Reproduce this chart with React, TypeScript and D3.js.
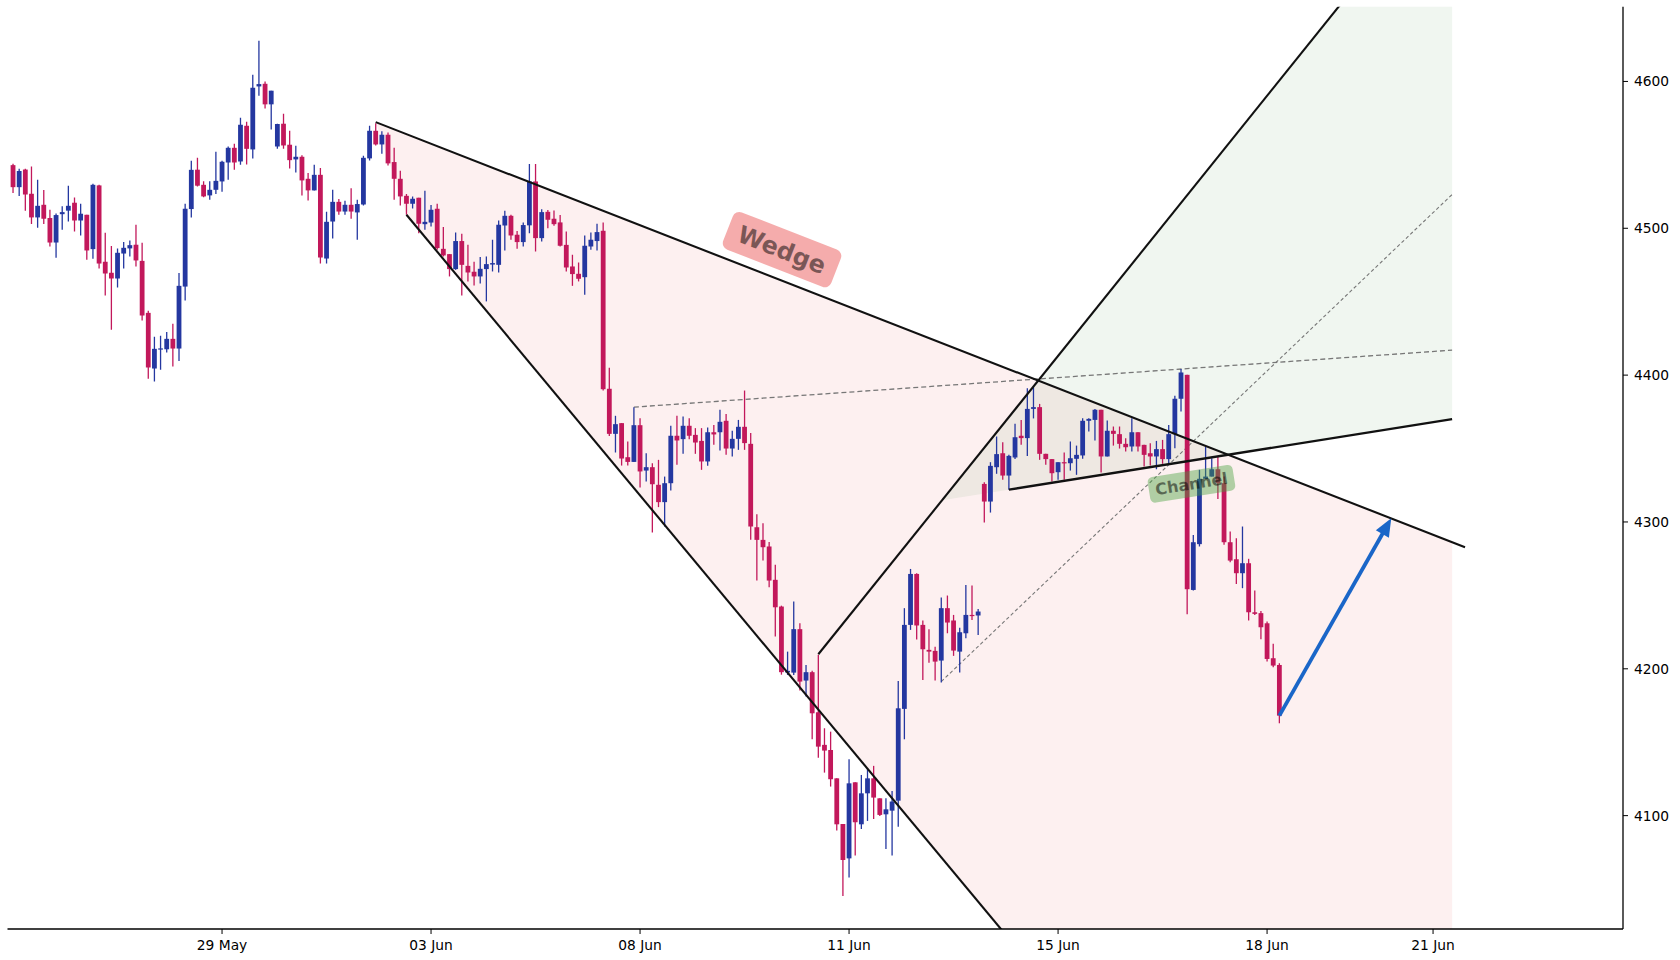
import React from "react";
import * as d3 from "d3";

// ---- candle data (index-based x axis) ----
const opens = [4543,4528,4540,4523.5,4507.4,4516,4507,4490.3,4509.6,4512,4517.4,4505.3,4509.2,4485.8,4529.2,4477.2,4469.7,4465.8,4482.8,4486.3,4488.8,4477.8,4442.4,4404.5,4417.6,4417.6,4424.7,4418.1,4460.3,4513.1,4539.9,4529.6,4522.4,4526.2,4531.9,4544.8,4554.8,4545.5,4569.8,4553.7,4596.6,4598.4,4584.4,4555.7,4571.2,4556.9,4546.9,4548.7,4533.7,4525.8,4536.4,4479.4,4504.6,4518,4511.4,4516,4510.8,4516.2,4547.6,4566.4,4557.1,4563.7,4545.1,4533.7,4522.1,4516.7,4520.8,4502.8,4503.9,4513.3,4486,4482.4,4472.2,4491.3,4474.4,4470.4,4467.2,4472.2,4475.3,4475.1,4501.9,4508.5,4495.6,4490.6,4502,4531.9,4493.3,4511.2,4506.5,4504,4488.7,4474,4469,4466.7,4487.6,4491.3,4498.3,4390.7,4360,4367.3,4344.1,4340.9,4365.9,4335,4337.3,4325.3,4313.5,4326.4,4358.7,4356.4,4365.5,4359.3,4355.2,4341.2,4361.1,4361.1,4368.9,4350,4356.6,4364.8,4353.2,4296.4,4287.8,4283.3,4260.6,4242.4,4197.5,4197.4,4227,4192,4197.7,4170.4,4148.2,4144.7,4125.4,4094.3,4070.9,4122.7,4094.1,4115.2,4125.4,4111.8,4100.9,4103.4,4110.2,4172.7,4229.9,4264.6,4229.9,4212.9,4212.2,4205.6,4241.3,4232.9,4211.7,4224.2,4236.7,4236.3,4325.9,4313.9,4337.3,4346.8,4331.6,4343.9,4358.7,4357.1,4377,4378.2,4346.4,4342.8,4333.9,4340.7,4340,4343,4345.3,4368.9,4369.5,4376.4,4344.6,4362.1,4359.8,4353.2,4351.4,4361.1,4352.5,4346.8,4344.6,4349.6,4342.8,4359.8,4383.9,4400.2,4253.7,4284.9,4329.4,4330.9,4335.9,4326.4,4286.2,4274.6,4265.1,4271.9,4238.5,4237.9,4231,4207.2,4202.6];
const highs = [4544,4540.5,4540.5,4542,4533,4526,4512.6,4510,4515,4529,4521,4516.7,4509.2,4530.3,4529.6,4497,4488,4486.3,4490.6,4491.7,4502.4,4490.1,4443.8,4426.1,4426.8,4429.3,4435,4469.5,4516.7,4546,4548,4532,4532,4552.1,4546,4555.7,4557.6,4575.3,4572.5,4604.6,4627.7,4600,4593.7,4571.2,4578,4566.4,4556.2,4549.8,4537.6,4543.2,4541,4511.2,4526.2,4519.9,4518.7,4527.3,4519.4,4549.4,4569.8,4571.6,4566,4565.3,4554.8,4539.2,4523.3,4521.7,4520.8,4525.5,4515.8,4516.7,4500.8,4482.4,4497.2,4496.3,4488.8,4477.2,4480.4,4480.8,4492.2,4505.3,4511.9,4509.2,4498.1,4504,4543.7,4543.7,4513,4512.4,4512.1,4509,4497.8,4482,4476.7,4495.1,4497.2,4503.1,4504,4405,4372.3,4367.3,4354.8,4378.2,4370.7,4346.8,4340,4342.3,4330.9,4365.5,4372.3,4371.8,4370.7,4363.9,4363.9,4364.3,4366.1,4376.4,4373.6,4362.1,4369.5,4389.5,4360.5,4305.3,4299.2,4286.4,4270.8,4243,4211.7,4245.8,4231,4202.6,4198.6,4209.5,4159.5,4157.2,4125.4,4094.3,4138.4,4122.7,4127.7,4131.6,4133.9,4111.8,4111.8,4116.8,4191.7,4241.3,4268,4265,4232.9,4227,4215.1,4248.5,4249.9,4236.7,4228,4257.1,4256.7,4240.8,4327,4340.7,4358.2,4354.3,4345.7,4366.8,4369.5,4391.1,4391.8,4380.4,4346.4,4342.8,4340.7,4347.3,4354.8,4352,4370.7,4370.7,4377,4376.4,4369.1,4365,4365,4357,4370.7,4361.1,4352.5,4353.6,4355.2,4355.9,4366.1,4385.9,4404.1,4400.2,4291.2,4335.5,4351.4,4343.4,4344.6,4330.9,4293.5,4288.9,4296.9,4274.9,4253.3,4239.4,4232.2,4217,4203.8];
const lows = [4524,4522,4512,4503,4500.3,4503,4487.6,4480,4499,4504.6,4497.8,4495.1,4478.5,4479.2,4472.6,4454.2,4430.9,4459.7,4472.6,4480.8,4474,4437.2,4397.5,4395.6,4403.6,4415.4,4405.9,4409.7,4450.8,4507.3,4528.5,4521.2,4519.4,4523.3,4524.9,4533,4539.9,4543.2,4543.5,4547.6,4590.3,4581.6,4567.3,4554.1,4554.1,4540.7,4538,4522.4,4519,4525.8,4476,4476,4493.1,4509.2,4509.2,4506.5,4492.2,4515.5,4546.2,4556.4,4550.7,4542.8,4519.4,4515.5,4509.2,4513.5,4496.7,4499,4501.2,4485.3,4480.8,4467.2,4471.7,4454.2,4463.8,4461,4462.4,4450.2,4470.6,4469.9,4484.9,4492.2,4486,4487.6,4496.7,4484.2,4491,4500.1,4501.7,4487.6,4470.6,4460.8,4463.8,4454.7,4485.3,4484.9,4389.5,4358.6,4347.3,4338.4,4338.4,4340.9,4323.4,4327.5,4292.8,4310.1,4296.9,4321.4,4338.9,4346.4,4356.4,4346.4,4335.5,4338.2,4352.5,4348.7,4345.7,4344.6,4349.1,4349.1,4287.8,4260.1,4273.7,4255.6,4222,4196,4195.8,4195.8,4185.2,4181.1,4152,4139.5,4129.3,4119.8,4089.8,4045.3,4057.8,4072.8,4090.9,4096.4,4097.7,4099.8,4077.3,4072.8,4092.5,4152,4226.5,4220,4192.4,4204.2,4192,4190.6,4224.2,4208.8,4197.4,4220.8,4233.3,4223.1,4299.6,4306.4,4332.8,4328.7,4321.9,4342.8,4352.5,4345,4370.5,4342.3,4338.9,4327.5,4328.7,4328.7,4335,4332.1,4343,4361.6,4355.5,4333.7,4344.6,4352,4350,4348,4348,4348,4337.8,4338.4,4335.9,4339.6,4340,4350.2,4375.2,4237.2,4253.3,4283.3,4329.4,4330.9,4315.7,4284.4,4272.6,4257.8,4254.9,4232.9,4236.7,4220.1,4204.9,4201.1,4162.9];
const closes = [4528,4539,4523,4507.4,4515.3,4506.5,4490.3,4509,4511,4515.3,4505.3,4509.9,4484.9,4529.6,4476,4469.2,4465.8,4483.3,4486.7,4488.5,4478.1,4440.6,4405.2,4417.9,4418.2,4424.7,4418.1,4460.8,4513.3,4539.8,4529,4521.7,4526.2,4532.3,4545.3,4554.8,4544.8,4570.5,4554.1,4595.7,4598.2,4584.4,4593.7,4571,4556.4,4546.4,4548.7,4532.6,4525.8,4536.4,4480.1,4504.4,4518,4511.4,4516,4511.4,4516.5,4548,4566.4,4557.1,4563.7,4544.2,4533.7,4521.7,4516.7,4520.1,4503.1,4504.4,4512.6,4486.5,4481.5,4472.2,4491.3,4475.1,4469.9,4467.2,4472.4,4475.6,4476.3,4502.4,4508.5,4495.1,4490.6,4502.2,4531.9,4493.3,4511,4505.8,4502.8,4488.1,4473.3,4468.8,4465.6,4488.1,4492.2,4497.4,4390.4,4360,4366.6,4343.2,4340.9,4365.9,4334.4,4337.3,4325.7,4313.5,4326.4,4358.7,4355.5,4365.5,4358.7,4354.1,4341.2,4361.1,4359.6,4368.2,4350,4356.6,4364.8,4353.7,4296.9,4287.8,4282.8,4260.1,4241.9,4197.7,4198.6,4227,4191.3,4197.7,4169.7,4147,4144.3,4124.8,4094.1,4069.8,4122,4095.5,4115.2,4125.4,4112.3,4100.5,4104.3,4109.6,4173.1,4229.9,4264.6,4229.5,4213.3,4211.7,4204.9,4241.3,4231.5,4212.4,4224.9,4236.7,4236.3,4239,4313.9,4338.2,4346.2,4331.6,4345,4357.7,4357.1,4377,4378.2,4346.4,4342.8,4333.2,4340.7,4340,4343.4,4345.7,4368.9,4370.2,4376.4,4344.6,4362.1,4360,4353.2,4350.9,4361.1,4351.4,4345.7,4344.6,4349.6,4342.8,4359.8,4383.9,4401.8,4254.2,4286.2,4329.4,4330.9,4335.9,4326.4,4286.2,4273.7,4265.1,4271.9,4238.5,4237.4,4228.3,4206.7,4202.2,4168.1];

// ---- axis ticks ----
const dateTickIndex = [34, 68, 102, 136, 170, 204, 231];
const dateTickLabels = ["29 May", "03 Jun", "08 Jun", "11 Jun", "15 Jun", "18 Jun", "21 Jun"];
const priceTicks = [4100, 4200, 4300, 4400, 4500, 4600];

// ---- pattern annotations: [index, price] anchor pairs ----
const wedgeUpper = [[59, 4572.3], [236.2, 4282.8]];
const wedgeLower = [[64, 4509.2], [175, 3950.9]];
const risingLine = [[131, 4209.9], [230, 4725.7]];
const channelLine = [[162, 4322], [234.1, 4370]];
const dashedHighs = [[101, 4378.2], [234.1, 4417]];
const dashedLows = [[151, 4191.3], [234.1, 4523]];
const arrowPoints = [[206, 4168.1], [224.2, 4302.5]];
const zoneEndIndex = 234.1;
const wedgeLabel = { text: "Wedge", index: 125.1, price: 4485.5 };
const channelLabel = { text: "Channel", index: 191.7, price: 4326 };

const W = 1680, H = 960;
const L = 7.5, R = 1623, T = 6.7, B = 929;

const x = d3.scaleLinear().domain([-0.9, 261.9]).range([L, R]);
const y = d3.scaleLinear().domain([4022.8, 4650.9]).range([B, T]);

const UP = "#2437a0";
const DOWN = "#c2185b";
const FONT = "DejaVu Sans, sans-serif";

function at(seg: number[][], i: number) {
  const [[x1, y1], [x2, y2]] = seg;
  return y1 + ((y2 - y1) * (i - x1)) / (x2 - x1);
}
function pts(list: number[][]) {
  return list.map(([i, p]) => `${x(i)},${y(p)}`).join(" ");
}
function angleOf(seg: number[][]) {
  const [[x1, y1], [x2, y2]] = seg;
  return (Math.atan2(y(y2) - y(y1), x(x2) - x(x1)) * 180) / Math.PI;
}

export default function App() {
  const bw = 4.8;
  const wedgePoly = [
    [wedgeUpper[0][0], at(wedgeUpper, wedgeUpper[0][0])],
    [zoneEndIndex, at(wedgeUpper, zoneEndIndex)],
    [zoneEndIndex, at(wedgeLower, zoneEndIndex)],
    [wedgeLower[0][0], at(wedgeLower, wedgeLower[0][0])],
  ];
  const s1 = (risingLine[1][1] - risingLine[0][1]) / (risingLine[1][0] - risingLine[0][0]);
  const s2 = (channelLine[1][1] - channelLine[0][1]) / (channelLine[1][0] - channelLine[0][0]);
  const xi = (channelLine[0][1] - s2 * channelLine[0][0] - (risingLine[0][1] - s1 * risingLine[0][0])) / (s1 - s2);
  const greenPoly = [
    [xi, at(channelLine, xi)],
    [zoneEndIndex, at(risingLine, zoneEndIndex)],
    [zoneEndIndex, at(channelLine, zoneEndIndex)],
  ];

  const ax1 = x(arrowPoints[0][0]), ay1 = y(arrowPoints[0][1]);
  const ax2 = x(arrowPoints[1][0]), ay2 = y(arrowPoints[1][1]);
  const len = Math.hypot(ax2 - ax1, ay2 - ay1);
  const ux = (ax2 - ax1) / len, uy = (ay2 - ay1) / len;
  const hl = 18, hw = 7.5;
  const bx = ax2 - ux * hl, by = ay2 - uy * hl;
  const head = `${ax2},${ay2} ${bx - uy * hw},${by + ux * hw} ${bx + uy * hw},${by - ux * hw}`;

  const wAng = angleOf(wedgeUpper);
  const cAng = angleOf(channelLine);

  const line = (seg: number[][], extra: any = {}) => (
    <line x1={x(seg[0][0])} y1={y(seg[0][1])} x2={x(seg[1][0])} y2={y(seg[1][1])} {...extra} />
  );

  return (
    <svg width={W} height={H} style={{ position: "absolute", left: 0, top: 0, background: "#fff" }}>
      <defs>
        <clipPath id="plot">
          <rect x={L} y={T} width={R - L} height={B - T} />
        </clipPath>
      </defs>
      <g clipPath="url(#plot)">
        <polygon points={pts(wedgePoly)} fill="rgb(230,60,60)" fillOpacity={0.08} />
        <polygon points={pts(greenPoly)} fill="rgb(60,140,60)" fillOpacity={0.08} />
        {line(dashedHighs, { stroke: "#777", strokeWidth: 1.3, strokeDasharray: "5,3" })}
        {line(dashedLows, { stroke: "#777", strokeWidth: 1.1, strokeDasharray: "3.5,2.5" })}
        {opens.map((o, i) => {
          const c = closes[i];
          const up = c >= o;
          const col = up ? UP : DOWN;
          const top = y(Math.max(o, c));
          const bot = y(Math.min(o, c));
          return (
            <g key={i}>
              <line x1={x(i)} x2={x(i)} y1={y(highs[i])} y2={y(lows[i])} stroke={col} strokeWidth={1.3} />
              <rect x={x(i) - bw / 2} y={top} width={bw} height={Math.max(1.2, bot - top)} fill={col} />
            </g>
          );
        })}
        {line(wedgeUpper, { stroke: "#111", strokeWidth: 2.1 })}
        {line(wedgeLower, { stroke: "#111", strokeWidth: 2.1 })}
        {line(risingLine, { stroke: "#111", strokeWidth: 2.1 })}
        {line(channelLine, { stroke: "#111", strokeWidth: 2.4 })}
        <line x1={ax1} y1={ay1} x2={bx + ux * 2} y2={by + uy * 2} stroke="#1a66c8" strokeWidth={3.8} />
        <polygon points={head} fill="#1a66c8" />
      </g>

      <g transform={`translate(${x(wedgeLabel.index)},${y(wedgeLabel.price)}) rotate(${wAng})`}>
        <rect x={-58} y={-20} width={116} height={40} rx={7} fill="rgb(235,90,90)" fillOpacity={0.5} />
        <text textAnchor="middle" dy="0.36em" fontFamily={FONT} fontWeight="bold" fontSize={24} fill="#000" fillOpacity={0.5}>
          {wedgeLabel.text}
        </text>
      </g>
      <g transform={`translate(${x(channelLabel.index)},${y(channelLabel.price)}) rotate(${cAng})`}>
        <rect x={-43} y={-13} width={86} height={26} rx={5} fill="rgb(70,160,60)" fillOpacity={0.42} />
        <text textAnchor="middle" dy="0.36em" fontFamily={FONT} fontWeight="bold" fontSize={16} fill="#000" fillOpacity={0.5}>
          {channelLabel.text}
        </text>
      </g>

      <line x1={L} x2={R} y1={B} y2={B} stroke="#000" strokeWidth={1.3} />
      <line x1={R} x2={R} y1={T} y2={B} stroke="#000" strokeWidth={1.3} />
      {dateTickIndex.map((t, k) => (
        <g key={t}>
          <line x1={x(t)} x2={x(t)} y1={B} y2={B + 5} stroke="#000" strokeWidth={1} />
          <text x={x(t)} y={B + 21} textAnchor="middle" fontFamily={FONT} fontSize={13.8} fill="#000">
            {dateTickLabels[k]}
          </text>
        </g>
      ))}
      {priceTicks.map((p) => (
        <g key={p}>
          <line x1={R} x2={R + 5} y1={y(p)} y2={y(p)} stroke="#000" strokeWidth={1} />
          <text x={R + 11} y={y(p)} dy="0.36em" fontFamily={FONT} fontSize={13.8} fill="#000">
            {p}
          </text>
        </g>
      ))}
    </svg>
  );
}
